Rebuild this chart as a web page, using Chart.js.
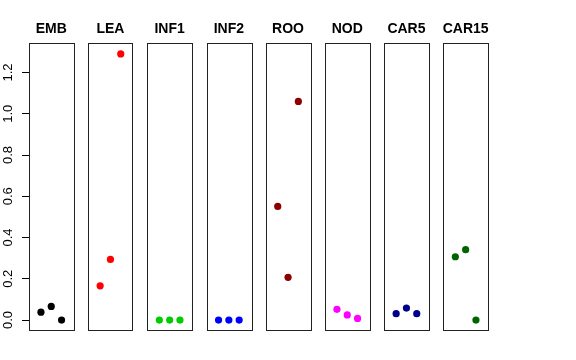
<!DOCTYPE html>
<html>
<head>
  <title>Panels</title>
  <style>
    body { margin: 0; background: #fff; }
    #wrap { position: relative; width: 576px; height: 360px; }
    #wrap canvas { position: absolute; left: 0; top: 0; }
  </style>
</head>
<body>
  <div id="wrap"></div>
  <script src="https://cdn.jsdelivr.net/npm/chart.js@4.4.0/dist/chart.umd.min.js"></script>
  <script>
    // panel names and the three values in each panel
    const groups = ['EMB', 'LEA', 'INF1', 'INF2', 'ROO', 'NOD', 'CAR5', 'CAR15'];
    const emb = [0.038, 0.066, 0.0];
    const lea = [0.166, 0.294, 1.29];
    const inf1 = [0.0, 0.0, 0.0];
    const inf2 = [0.0, 0.0, 0.0];
    const roo = [0.551, 0.207, 1.06];
    const nod = [0.052, 0.025, 0.008];
    const car5 = [0.031, 0.058, 0.031];
    const car15 = [0.307, 0.341, 0.0];
    const values = [emb, lea, inf1, inf2, roo, nod, car5, car15];
    const colors = ['#000000', '#FF0000', '#00CD00', '#0000FF', '#8B0000', '#FF00FF', '#00008B', '#006400'];
    const xPos = [1, 2, 3];
    const yTicks = [0.0, 0.2, 0.4, 0.6, 0.8, 1.0, 1.2];

    const W = 576, H = 360;
    const left0 = 29, step = 59.2, panelW = 44.5;
    const panelTop = 43.3, panelBottom = 330.7;
    const fontFam = 'Liberation Sans, Arial, sans-serif';

    // box round each panel plus its bold heading
    const frame = {
      id: 'frame',
      afterDraw(chart, args, opts) {
        const a = chart.chartArea, c = chart.ctx;
        c.save();
        c.strokeStyle = '#222';
        c.lineWidth = 1;
        c.strokeRect(Math.round(a.left) + 0.5, Math.round(a.top) + 0.5,
          Math.round(a.right - a.left), Math.round(a.bottom - a.top));
        c.fillStyle = '#000';
        c.font = 'bold 14px ' + fontFam;
        c.textAlign = 'center';
        c.textBaseline = 'middle';
        c.fillText(opts.text, (a.left + a.right) / 2, 29.5);
        c.restore();
      }
    };

    groups.forEach((name, i) => {
      const cv = document.createElement('canvas');
      cv.width = W; cv.height = H;
      document.getElementById('wrap').appendChild(cv);
      const pl = left0 + i * step;
      const first = i === 0;

      new Chart(cv.getContext('2d'), {
        type: 'scatter',
        data: {
          datasets: [{
            data: xPos.map((x, k) => ({ x: x, y: values[i][k] })),
            backgroundColor: colors[i],
            borderWidth: 0,
            pointRadius: 3.6
          }]
        },
        options: {
          responsive: false,
          animation: false,
          layout: {
            padding: { left: first ? 0 : pl, right: W - pl - panelW, top: panelTop, bottom: H - panelBottom }
          },
          plugins: {
            legend: { display: false },
            tooltip: { enabled: false },
            frame: { text: name }
          },
          scales: {
            x: { type: 'linear', min: -0.16, max: 4.16, display: false },
            y: {
              type: 'linear',
              min: -0.0516,
              max: 1.3416,
              display: first,
              afterFit(scale) { if (first) scale.width = left0; },
              afterBuildTicks(scale) { scale.ticks = yTicks.map(v => ({ value: v })); },
              border: { display: false },
              grid: { drawOnChartArea: false, tickLength: 7, color: '#000', tickWidth: 1 },
              ticks: {
                minRotation: 90,
                maxRotation: 90,
                crossAlign: 'center',
                padding: 4.5,
                color: '#000',
                font: { family: fontFam, size: 13 },
                callback: v => Number(v).toFixed(1)
              }
            }
          }
        },
        plugins: [frame]
      });
    });
  </script>
</body>
</html>
